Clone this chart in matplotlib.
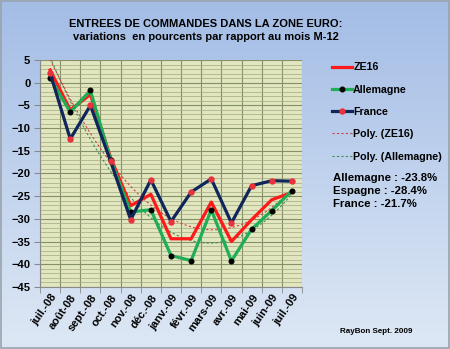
import matplotlib
matplotlib.use("Agg")
import matplotlib.pyplot as plt
from matplotlib.lines import Line2D
import numpy as np

plt.rcParams['font.family'] = ['Liberation Sans', 'DejaVu Sans']
plt.rcParams['font.weight'] = 'bold'

# data
months = ["juil.-08", "août-08", "sept.-08", "oct.-08", "nov.-08", "déc.-08",
          "janv.-09", "févr.-09", "mars-09", "avr.-09", "mai-09", "juin-09", "juil.-09"]
ze16 = [2.8, -6.0, -2.6, -16.5, -27.1, -24.6, -34.4, -34.4, -26.3, -35.0, -30.2, -25.8, -24.2]
allemagne = [1.1, -6.5, -1.7, -17.0, -28.5, -28.0, -38.1, -39.2, -28.0, -39.3, -32.3, -28.2, -23.8]
france = [2.1, -12.4, -5.0, -17.3, -30.2, -21.4, -30.6, -24.1, -21.2, -30.9, -22.7, -21.6, -21.7]
notes = ["Allemagne : -23.8%", "Espagne : -28.4%", "France : -21.7%"]

x = np.arange(len(months))

fig = plt.figure(figsize=(4.5, 3.49), dpi=100)

# background gradient
bg = fig.add_axes([0, 0, 1, 1], zorder=-10)
grad = np.linspace(0, 1, 256).reshape(-1, 1)
top = np.array([0.64, 0.74, 0.90])
bot = np.array([0.87, 0.91, 0.96])
img = top + (bot - top) * grad[..., None]
bg.imshow(img, aspect='auto', extent=[0, 1, 0, 1])
bg.add_patch(plt.Rectangle((0.002, 0.003), 0.995, 0.994, fill=False,
                           edgecolor='#9aa3ad', lw=1.2))
bg.set_xlim(0, 1)
bg.set_ylim(0, 1)
bg.axis('off')

ax = fig.add_axes([0.089, 0.178, 0.582, 0.650])
ax.set_facecolor('#e1e6bf')

# polynomial trend lines (order 2, like excel's trendline)
xf = np.linspace(0, len(months) - 1, 100)
p_ze = np.polyval(np.polyfit(x, ze16, 2), xf)
p_al = np.polyval(np.polyfit(x, allemagne, 2), xf)

ax.plot(x, ze16, color='#ff1a1a', lw=2.3, zorder=3)
ax.plot(x, allemagne, color='#1fae55', lw=2.3, marker='o', ms=3.3,
        mfc='black', mec='black', zorder=4)
ax.plot(x, france, color='#10265a', lw=2.3, marker='o', ms=3.6,
        mfc='#e8323c', mec='#e8323c', zorder=5)
ax.plot(xf, p_ze, color='#d04040', lw=0.8, ls=(0, (2, 2)), zorder=2)
ax.plot(xf, p_al, color='#3c8c5a', lw=0.8, ls=(0, (2, 2)), zorder=2)

ax.set_xlim(-0.5, len(months) - 0.5)
ax.set_ylim(-45, 5)
ax.set_yticks(np.arange(-45, 6, 5))
ax.set_yticks(np.arange(-45, 6, 1), minor=True)
ax.set_xticks(x)
ax.set_xticks(np.arange(-0.5, len(months), 1), minor=True)
ax.set_xticklabels(months, rotation=55, ha='right', rotation_mode='anchor',
                   fontsize=8, fontweight='bold')
for lab in ax.get_yticklabels():
    lab.set_fontsize(8)
    lab.set_fontweight('bold')
ax.tick_params(axis='x', which='major', length=0, pad=4)
ax.tick_params(axis='x', which='minor', length=4, color='#8a8a8a')
ax.tick_params(axis='y', which='major', length=4, color='#8a8a8a', pad=3)
ax.tick_params(axis='y', which='minor', length=0)
ax.grid(which='major', axis='y', color='#859068', lw=0.8)
ax.grid(which='minor', axis='y', color='#a3aa82', lw=0.5)
ax.grid(which='minor', axis='x', color='#859068', lw=0.8)
ax.set_axisbelow(True)
for s in ['top', 'right']:
    ax.spines[s].set_visible(False)
ax.spines['left'].set_color('#8a8a8a')
ax.spines['bottom'].set_color('#8a8a8a')

fig.text(0.458, 0.930, "ENTREES DE COMMANDES DANS LA ZONE EURO:", ha='center',
         va='center', fontsize=8.0, fontweight='bold')
fig.text(0.458, 0.893, "variations  en pourcents par rapport au mois M-12", ha='center',
         va='center', fontsize=8.0, fontweight='bold')

handles = [
    Line2D([], [], color='#ff1a1a', lw=2.3),
    Line2D([], [], color='#1fae55', lw=2.3, marker='o', ms=3.3, mfc='black', mec='black'),
    Line2D([], [], color='#10265a', lw=2.3, marker='o', ms=3.6, mfc='#e8323c', mec='#e8323c'),
    Line2D([], [], color='#d04040', lw=0.8, ls=(0, (2, 2))),
    Line2D([], [], color='#3c8c5a', lw=0.8, ls=(0, (2, 2))),
]
labels = ["ZE16", "Allemagne", "France", "Poly. (ZE16)", "Poly. (Allemagne)"]
fig.legend(handles, labels, loc='upper left', bbox_to_anchor=(0.716, 0.849),
           frameon=False, handlelength=1.9, handletextpad=0.1,
           labelspacing=1.15, prop={'weight': 'bold', 'size': 7.7})

for i, t in enumerate(notes):
    fig.text(0.740, 0.490 - i * 0.037, t, fontsize=8.2, fontweight='bold', va='center')

fig.text(0.755, 0.050, "RayBon Sept. 2009", fontsize=5.8, fontweight='bold', va='center')

fig.savefig("out.png", dpi=100)
